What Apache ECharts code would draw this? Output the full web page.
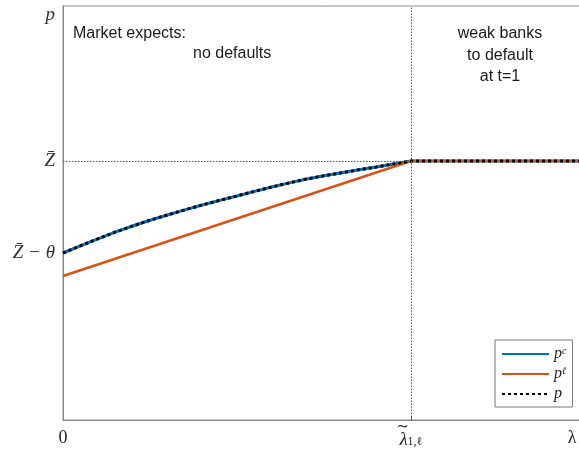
<!DOCTYPE html>
<html>
<head>
<meta charset="utf-8">
<script src="https://cdn.jsdelivr.net/npm/echarts@6/dist/echarts.min.js"></script>
<style>
  html, body { margin: 0; padding: 0; background: #fff; }
  #chart { width: 579px; height: 452px; }
</style>
</head>
<body>
<div id="chart"></div>
<script>
// Share of weak banks (lambda) on the x axis, price level on the y axis.
const lambdaMax = 1.494;          // right edge of the plot
const lambdaStar = 1;             // threshold lambda~_{1,l}
const zBar = 2.59;                // Z-bar
const zBarMinusTheta = 1.67;      // Z-bar minus theta
const yMax = 4.14;

// p^c: concave price path, flat once lambda passes the threshold
const lambdaC = [0, 0.05, 0.1, 0.15, 0.2, 0.25, 0.3, 0.35, 0.4, 0.45, 0.5,
                 0.55, 0.6, 0.65, 0.7, 0.75, 0.8, 0.85, 0.9, 0.95, 1.0, lambdaMax];
const priceC  = [1.670, 1.742, 1.812, 1.878, 1.940, 1.997, 2.050, 2.101, 2.150, 2.196, 2.240,
                 2.286, 2.330, 2.371, 2.410, 2.442, 2.472, 2.502, 2.531, 2.561, 2.590, 2.590];

// p^l: linear path
const lambdaL = [0, 1.0, lambdaMax];
const priceL  = [1.44, 2.59, 2.59];

// p: market price, equal to p^c
const lambdaP = lambdaC;
const priceP  = priceC;

// axis tick labels
const xTickValues = [0, lambdaStar, 1.463];
const xTickLabels = [
  '{n|0}',
  '{t|∼}{gap|}\n{l|λ}{s|1,ℓ}',
  '{n|λ}'
];
const yTickValues = [zBarMinusTheta, zBar, 4.05];
const yTickLabels = ['{m|Z\u0304 − θ}', '{m|Z\u0304}', '{m|p}'];

const legendLabels = { pc: '{i|p}{sup|c}', pl: '{i|p}{sup|ℓ}', p: '{i|p}' };

const pairs = (xs, ys) => xs.map((x, i) => [x, ys[i]]);
const serif = '"Liberation Serif", "DejaVu Serif", serif';
const sans = '"Liberation Sans", Arial, sans-serif';

const chart = echarts.init(document.getElementById('chart'), null, { renderer: 'canvas' });

chart.setOption({
  animation: false,
  backgroundColor: '#fff',
  grid: {
    left: 63, top: 6, width: 520, height: 414,
    outerBoundsMode: 'none',
    show: true, borderColor: '#8a8a8a', borderWidth: 1, backgroundColor: 'transparent'
  },
  xAxis: {
    type: 'value', min: 0, max: lambdaMax,
    axisLine: { show: true, lineStyle: { color: '#8a8a8a', width: 1 } },
    axisTick: { show: true, inside: true, length: 4, customValues: [lambdaStar], lineStyle: { color: '#555' } },
    splitLine: { show: false },
    axisLabel: {
      customValues: xTickValues,
      margin: 2,
      formatter: v => xTickLabels[xTickValues.indexOf(v)],
      rich: {
        n: { fontFamily: serif, fontSize: 18, color: '#222', lineHeight: 32 },
        t: { fontFamily: serif, fontSize: 15, color: '#222', width: 11, align: 'center', lineHeight: 10 },
        gap: { width: 17, lineHeight: 10 },
        l: { fontFamily: serif, fontSize: 18, fontStyle: 'italic', color: '#222', lineHeight: 16 },
        s: { fontFamily: serif, fontSize: 12, color: '#222', verticalAlign: 'bottom', lineHeight: 16, padding: [8, 0, 0, 0] }
      }
    }
  },
  yAxis: {
    type: 'value', min: 0, max: yMax,
    axisLine: { show: true, lineStyle: { color: '#8a8a8a', width: 1 } },
    axisTick: { show: false },
    splitLine: { show: false },
    axisLabel: {
      customValues: yTickValues,
      margin: 8,
      formatter: v => yTickLabels[yTickValues.indexOf(v)],
      rich: {
        m: { fontFamily: serif, fontSize: 19, fontStyle: 'italic', color: '#333' }
      }
    }
  },
  legend: {
    orient: 'vertical',
    left: 495, top: 340,
    padding: [6, 6, 5, 6],
    itemWidth: 47, itemHeight: 14, itemGap: 4,
    backgroundColor: '#fff',
    borderColor: '#777', borderWidth: 1, borderRadius: 0,
    itemStyle: { opacity: 0 },
    data: ['pc', 'pl', 'p'],
    formatter: name => legendLabels[name],
    textStyle: {
      rich: {
        i: { fontFamily: serif, fontSize: 16, fontStyle: 'italic', color: '#222', lineHeight: 16 },
        sup: { fontFamily: serif, fontSize: 10, fontStyle: 'italic', color: '#222', verticalAlign: 'top', lineHeight: 16 }
      }
    }
  },
  graphic: [
    { type: 'text', left: 73, top: 26, style: { text: 'Market expects:', font: '16px ' + sans, fill: '#1a1a1a' } },
    { type: 'text', left: 193, top: 46, style: { text: 'no defaults', font: '16px ' + sans, fill: '#1a1a1a' } },
    {
      type: 'text', x: 500, y: 23,
      style: {
        text: 'weak banks\nto default\nat t=1', font: '16px ' + sans, fill: '#1a1a1a',
        align: 'center', verticalAlign: 'top', lineHeight: 21.5
      }
    }
  ],
  series: [
    {
      name: 'pc', type: 'line', data: pairs(lambdaC, priceC),
      symbol: 'none', z: 2,
      lineStyle: { color: '#0072BD', width: 3 },
      itemStyle: { color: '#0072BD' },
      markLine: {
        silent: true, symbol: 'none', label: { show: false },
        lineStyle: { color: '#555', type: [1.5, 1.5], width: 1 },
        data: [
          [{ coord: [0, zBar] }, { coord: [lambdaStar, zBar] }],
          [{ coord: [lambdaStar, 0] }, { coord: [lambdaStar, yMax] }]
        ]
      }
    },
    {
      name: 'pl', type: 'line', data: pairs(lambdaL, priceL),
      symbol: 'none', z: 3,
      lineStyle: { color: '#D95319', width: 2.5 },
      itemStyle: { color: '#D95319' }
    },
    {
      name: 'p', type: 'line', data: pairs(lambdaP, priceP),
      symbol: 'none', z: 4,
      lineStyle: { color: '#000', width: 3, type: [3, 3], cap: 'butt' },
      itemStyle: { color: '#000' }
    }
  ]
});
</script>
</body>
</html>
